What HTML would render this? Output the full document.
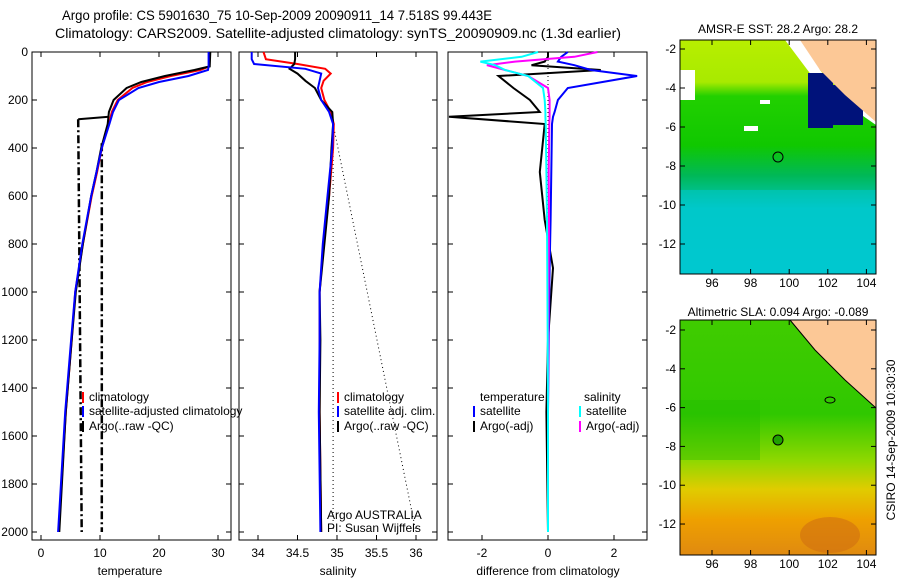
<!DOCTYPE html>
<html><head><meta charset="utf-8"><style>
body{margin:0;background:#fff;}
svg{display:block;font-family:"Liberation Sans",sans-serif;}
</style></head><body>
<svg id="fig" width="900" height="580" viewBox="0 0 900 580" xmlns="http://www.w3.org/2000/svg">
<g font-size="14">
<text x="62" y="20" textLength="430" lengthAdjust="spacingAndGlyphs">Argo profile: CS 5901630_75 10-Sep-2009 20090911_14 7.518S 99.443E</text>
<text x="55" y="38" textLength="566" lengthAdjust="spacingAndGlyphs">Climatology: CARS2009. Satellite-adjusted climatology: synTS_20090909.nc (1.3d earlier)</text>
</g>
<defs>
<linearGradient id="sst" x1="0" y1="0" x2="0" y2="1">
<stop offset="0" stop-color="#b8ee00"/><stop offset="0.18" stop-color="#a8ea00"/>
<stop offset="0.24" stop-color="#22d000"/><stop offset="0.45" stop-color="#10c800"/>
<stop offset="0.58" stop-color="#00b858"/><stop offset="0.72" stop-color="#00c8c0"/>
<stop offset="1" stop-color="#00c8cc"/></linearGradient>
<linearGradient id="sla" x1="0" y1="0" x2="0" y2="1">
<stop offset="0" stop-color="#40cc00"/><stop offset="0.4" stop-color="#30c800"/>
<stop offset="0.6" stop-color="#90d800"/><stop offset="0.72" stop-color="#e0cc00"/>
<stop offset="0.85" stop-color="#eea000"/><stop offset="1" stop-color="#e08a10"/></linearGradient>
</defs>
<g>
<rect x="680" y="40" width="196" height="234" fill="url(#sst)"/>
<rect x="680" y="70" width="15" height="30" fill="#fff"/>
<rect x="744" y="126" width="14" height="5" fill="#fff"/>
<rect x="760" y="100" width="10" height="4" fill="#fff"/>
<rect x="680" y="190" width="196" height="84" fill="#00c8d4" opacity="0.5"/>
<polygon points="785,40 805,40 820,70 840,95 876,110 876,125 840,100 815,80 800,60" fill="#fff"/>
<rect x="808" y="73" width="25" height="55" fill="#00127a"/>
<rect x="833" y="85" width="30" height="40" fill="#00127a"/>
<polygon points="800,40 876,40 876,122 845,95 820,70" fill="#fcc896"/>
<circle cx="778" cy="157" r="5" fill="none" stroke="#000"/>
</g>
<g>
<rect x="680" y="320" width="196" height="235" fill="url(#sla)"/>
<rect x="680" y="400" width="80" height="60" fill="#20bb00" opacity="0.4"/>
<ellipse cx="830" cy="535" rx="30" ry="18" fill="#d07010" opacity="0.6"/>
<polygon points="790,320 876,320 876,408 845,380 815,350" fill="#fcc896"/>
<polyline points="790,320 815,350 845,380 876,408" fill="none" stroke="#000"/>
<circle cx="778" cy="440" r="5" fill="#20a000" stroke="#000"/>
<ellipse cx="830" cy="400" rx="5" ry="3" fill="none" stroke="#000"/>
</g>
<g id="axes" fill="none" stroke="#000" stroke-width="1"></g>
<g id="marks" fill="none"></g>
<g id="labels" font-size="12"></g>
<text x="895" y="440" font-size="12" text-anchor="middle" transform="rotate(-90 895 440)">CSIRO 14-Sep-2009 10:30:30</text>
<g font-size="12" text-anchor="middle">
<text x="778" y="33">AMSR-E SST: 28.2 Argo: 28.2</text>
<text x="778" y="316">Altimetric SLA: 0.094 Argo: -0.089</text>
</g>
</svg>
<script>
const depthTicks=[0,200,400,600,800,1000,1200,1400,1600,1800,2000];
const tempTicks=[0,10,20,30];
const salTicks=[34,34.5,35,35.5,36];
const diffTicks=[-2,0,2];
const lonTicks=[96,98,100,102,104];
const latTicks=[-2,-4,-6,-8,-10,-12];
const tDepth=[0,60,75,100,125,150,200,250,300,400,500,600,800,1000,1200,1500,2000];
const tClim=[28.6,28.5,27,22,18,15.5,13,12,11.5,10.3,9.5,8.6,7.1,5.8,5.2,4.2,3.0];
const tSat=[28.4,28.4,28.3,25,20,16.5,13.2,12.2,11.6,10.3,9.4,8.5,7.0,5.8,5.1,4.1,2.9];
const tArgo=[28.7,28.6,26,21,17,14.5,12.3,11.5,11.3,10.2,9.4,8.5,7.1,5.9,5.2,4.2,3.1];
const sDepth=[0,30,50,70,90,120,150,200,250,300,400,600,800,1000,1200,1500,2000];
const sClim=[34.07,34.1,34.5,34.85,34.92,34.83,34.8,34.84,34.92,34.96,34.95,34.9,34.83,34.78,34.78,34.78,34.8];
const sSat=[33.92,33.92,33.95,34.6,34.8,34.78,34.76,34.8,34.9,34.95,34.94,34.88,34.82,34.78,34.78,34.77,34.79];
const sArgo=[34.47,34.47,34.46,34.4,34.5,34.6,34.72,34.8,34.94,34.95,34.93,34.9,34.84,34.78,34.79,34.78,34.8];
const dDepth=[0,20,40,55,75,100,150,200,250,270,300,500,700,900,1200,1500,2000];
const dTempSat=[0.6,0.4,0.3,0.8,1.3,2.7,0.6,0.3,0.2,0.15,0.12,0.1,0.08,0.05,0.02,0.0,0.0];
const dTempArgo=[0,0,-0.1,-0.5,1.6,-1.5,-1.05,-0.55,-0.25,-3,-0.1,-0.25,-0.1,0.15,0.0,-0.05,0.0];
const dSalSat=[-0.3,-0.8,-2.05,-1.6,-1.3,-0.6,-0.15,-0.1,-0.08,-0.08,-0.07,-0.05,-0.03,-0.02,-0.01,0,0];
const dSalArgo=[1.5,0.8,-1.0,-1.85,-1.3,-0.6,0,0.05,0.05,0.05,0.04,0.02,0.03,0.02,0.01,0,0];
const y=d=>52+d*0.24;
const panels=[
 {name:'temperature',x0:32,x1:231,sx:v=>41+v*5.9,ticks:tempTicks,title:'temperature',tx:130},
 {name:'salinity',x0:239,x1:437,sx:v=>258+(v-34)*79,ticks:salTicks,title:'salinity',tx:338},
 {name:'difference',x0:448,x1:647,sx:v=>548+v*33,ticks:diffTicks,title:'difference from climatology',tx:548}];
const NS='http://www.w3.org/2000/svg';
const ax=document.getElementById('axes'),mk=document.getElementById('marks'),lb=document.getElementById('labels');
function el(t,a,p){const e=document.createElementNS(NS,t);for(const k in a)e.setAttribute(k,a[k]);p.appendChild(e);return e;}
function txt(x,yy,s,anchor,p){const e=el('text',{x:x,y:yy,'text-anchor':anchor||'start'},p);e.textContent=s;return e;}
panels.forEach((P,i)=>{
 const r=el('rect',{x:P.x0,y:52,width:P.x1-P.x0,height:488},ax);
 
 
 P.ticks.forEach(t=>{const X=P.sx(t);el('line',{x1:X,y1:52,x2:X,y2:57},ax);el('line',{x1:X,y1:540,x2:X,y2:535},ax);
  const l=txt(X,557,String(t),'middle',lb);
  
  });
 depthTicks.forEach(d=>{el('line',{x1:P.x0,y1:y(d),x2:P.x0+5,y2:y(d)},ax);el('line',{x1:P.x1,y1:y(d),x2:P.x1-5,y2:y(d)},ax);});
 const t=txt(P.tx,575,P.title,'middle',lb);
 
 
});
depthTicks.forEach(d=>{const l=txt(28,y(d)+4,String(d),'end',lb);
 
 });
function line(P,xs,ds,color,name,w,dash){
 const pts=xs.map((v,i)=>P.sx(v).toFixed(1)+','+y(ds[i]).toFixed(1)).join(' ');
 const e=el('polyline',{points:pts,stroke:color,'stroke-width':w||2,fill:'none'},mk);
 if(dash)e.setAttribute('stroke-dasharray',dash);
 
 
}
const [PT,PS,PD]=panels;
line(PT,[6.3,6.9],[280,2000],'#000','temp-qc-lower',2.5,'8,3,2,3');
line(PT,[10.3,10.3],[380,2000],'#000','temp-qc-upper',2.5,'8,3,2,3');
line(PT,[11.5,6.3],[270,280],'#000','temp-qc-step',2);
line(PT,tClim,tDepth,'#f00','temp-climatology');
line(PT,tArgo,tDepth,'#000','temp-argo');
line(PT,tSat,tDepth,'#00f','temp-satellite');
line(PS,[34.95,34.95],[300,2000],'#000','sal-ref-vertical',1,'1,3');
line(PS,[34.95,36],[300,2000],'#000','sal-ref-diagonal',1,'1,3');
line(PS,sClim,sDepth,'#f00','sal-climatology');
line(PS,sArgo,sDepth,'#000','sal-argo');
line(PS,sSat,sDepth,'#00f','sal-satellite');
line(PD,[0,0],[0,2000],'#000','diff-zero-line',1,'1,3');
line(PD,dTempArgo,dDepth,'#000','diff-temp-argo');
line(PD,dTempSat,dDepth,'#00f','diff-temp-satellite');
line(PD,dSalArgo,dDepth,'#f0f','diff-sal-argo');
line(PD,dSalSat,dDepth,'#0ff','diff-sal-satellite');
function leg(xt,yy,color,label){
 if(color){el('line',{x1:xt-6,y1:yy-9,x2:xt-6,y2:yy+2,stroke:color,'stroke-width':2},lb);}
 const t=txt(xt,yy,label,'start',lb);
 
 
}
leg(89,401,'#f00','climatology');leg(89,415,'#00f','satellite-adjusted climatology');leg(89,430,'#000','Argo(..raw -QC)');
leg(344,401,'#f00','climatology');leg(344,415,'#00f','satellite adj. clim.');leg(344,430,'#000','Argo(..raw -QC)');
leg(480,401,null,'temperature');leg(584,401,null,'salinity');
leg(480,415,'#00f','satellite');leg(586,415,'#0ff','satellite');
leg(480,430,'#000','Argo(-adj)');leg(586,430,'#f0f','Argo(-adj)');
leg(327,519,null,'Argo AUSTRALIA');leg(327,532,null,'PI: Susan Wijffels');
[[40,274,49],[320,555,330]].forEach((m,k)=>{
 const top=m[0],bot=m[1];
 const r=el('rect',{x:680,y:top,width:196,height:bot-top},ax);
 
 
 const ly=v=>m[2]+(-2-v)*19.5*(k?0.995:1);
 latTicks.forEach(v=>{const Y=ly(v);el('line',{x1:876,y1:Y,x2:871,y2:Y},ax);el('line',{x1:680,y1:Y,x2:685,y2:Y},ax);
  const l=txt(676,Y+4,String(v),'end',lb);
  
  });
 lonTicks.forEach(v=>{const X=712+(v-96)*19.3;el('line',{x1:X,y1:bot,x2:X,y2:bot-5},ax);el('line',{x1:X,y1:top,x2:X,y2:top+5},ax);
  const l=txt(X,bot+13,String(v),'middle',lb);
  
  });
});
</script>
</body></html>
